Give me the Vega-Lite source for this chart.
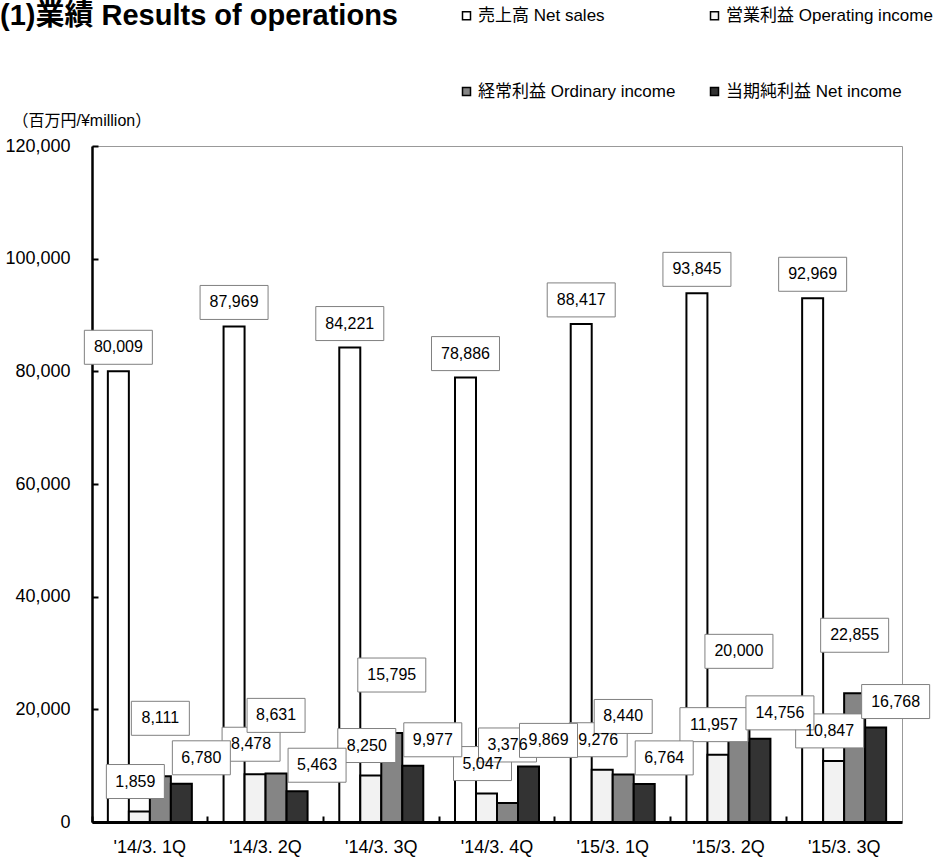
{
  "$schema": "https://vega.github.io/schema/vega-lite/v6.json",
  "autosize": {"type": "none"},
  "padding": {"left": 92, "top": 146, "right": 47, "bottom": 39},
  "width": 810,
  "height": 676,
  "background": "white",
  "title": {
    "text": "(1)業績 Results of operations",
    "anchor": "start",
    "frame": "group",
    "dx": -92,
    "dy": 24,
    "fontSize": 29,
    "fontWeight": "bold",
    "color": "black",
    "offset": 0
  },
  "data": {
    "values": [
      {"quarter": "'14/3. 1Q", "series": "売上高 Net sales", "value": 80009},
      {"quarter": "'14/3. 1Q", "series": "営業利益 Operating income", "value": 1859},
      {"quarter": "'14/3. 1Q", "series": "経常利益 Ordinary income", "value": 8111},
      {"quarter": "'14/3. 1Q", "series": "当期純利益 Net income", "value": 6780},
      {"quarter": "'14/3. 2Q", "series": "売上高 Net sales", "value": 87969},
      {"quarter": "'14/3. 2Q", "series": "営業利益 Operating income", "value": 8478},
      {"quarter": "'14/3. 2Q", "series": "経常利益 Ordinary income", "value": 8631},
      {"quarter": "'14/3. 2Q", "series": "当期純利益 Net income", "value": 5463},
      {"quarter": "'14/3. 3Q", "series": "売上高 Net sales", "value": 84221},
      {"quarter": "'14/3. 3Q", "series": "営業利益 Operating income", "value": 8250},
      {"quarter": "'14/3. 3Q", "series": "経常利益 Ordinary income", "value": 15795},
      {"quarter": "'14/3. 3Q", "series": "当期純利益 Net income", "value": 9977},
      {"quarter": "'14/3. 4Q", "series": "売上高 Net sales", "value": 78886},
      {"quarter": "'14/3. 4Q", "series": "営業利益 Operating income", "value": 5047},
      {"quarter": "'14/3. 4Q", "series": "経常利益 Ordinary income", "value": 3376},
      {"quarter": "'14/3. 4Q", "series": "当期純利益 Net income", "value": 9869},
      {"quarter": "'15/3. 1Q", "series": "売上高 Net sales", "value": 88417},
      {"quarter": "'15/3. 1Q", "series": "営業利益 Operating income", "value": 9276},
      {"quarter": "'15/3. 1Q", "series": "経常利益 Ordinary income", "value": 8440},
      {"quarter": "'15/3. 1Q", "series": "当期純利益 Net income", "value": 6764},
      {"quarter": "'15/3. 2Q", "series": "売上高 Net sales", "value": 93845},
      {"quarter": "'15/3. 2Q", "series": "営業利益 Operating income", "value": 11957},
      {"quarter": "'15/3. 2Q", "series": "経常利益 Ordinary income", "value": 20000},
      {"quarter": "'15/3. 2Q", "series": "当期純利益 Net income", "value": 14756},
      {"quarter": "'15/3. 3Q", "series": "売上高 Net sales", "value": 92969},
      {"quarter": "'15/3. 3Q", "series": "営業利益 Operating income", "value": 10847},
      {"quarter": "'15/3. 3Q", "series": "経常利益 Ordinary income", "value": 22855},
      {"quarter": "'15/3. 3Q", "series": "当期純利益 Net income", "value": 16768}
    ]
  },
  "encoding": {
    "x": {
      "field": "quarter",
      "type": "nominal",
      "scale": {"paddingInner": 0, "paddingOuter": 0},
      "axis": {
        "title": null,
        "labelAngle": 0,
        "bandPosition": 0,
        "tickSize": -6,
        "tickWidth": 2,
        "tickColor": "black",
        "domainWidth": 3,
        "domainColor": "black",
        "labelFontSize": 18,
        "labelColor": "black",
        "labelPadding": 22
      }
    },
    "xOffset": {
      "field": "series",
      "type": "nominal",
      "sort": ["売上高 Net sales", "営業利益 Operating income", "経常利益 Ordinary income", "当期純利益 Net income"],
      "scale": {"paddingInner": 0, "paddingOuter": 0.755}
    },
    "y": {
      "field": "value",
      "type": "quantitative",
      "scale": {"domain": [0, 120000], "nice": false},
      "axis": {
        "values": [0, 20000, 40000, 60000, 80000, 100000, 120000],
        "format": ",.0f",
        "grid": false,
        "tickSize": -6,
        "tickWidth": 2,
        "tickColor": "black",
        "domainWidth": 2.5,
        "domainColor": "black",
        "labelFontSize": 18,
        "labelColor": "black",
        "labelPadding": 28,
        "title": "（百万円/¥million）",
        "titleAngle": 0,
        "titleAlign": "left",
        "titleBaseline": "middle",
        "titleX": -80,
        "titleY": -26,
        "titleFontSize": 16,
        "titleFontWeight": "normal",
        "titleColor": "black"
      }
    }
  },
  "layer": [
    {
      "mark": {"type": "bar", "stroke": "black", "strokeWidth": 2},
      "encoding": {
        "fill": {
          "field": "series",
          "type": "nominal",
          "scale": {
            "domain": ["売上高 Net sales", "営業利益 Operating income", "経常利益 Ordinary income", "当期純利益 Net income"],
            "range": ["#ffffff", "#f2f2f2", "#858585", "#333333"]
          },
          "legend": {
            "orient": "none",
            "legendX": 366,
            "legendY": -139,
            "columns": 2,
            "direction": "horizontal",
            "title": null,
            "symbolType": "square",
            "symbolSize": 64,
            "symbolStrokeColor": "black",
            "symbolStrokeWidth": 1.5,
            "labelFontSize": 17,
            "labelColor": "black",
            "labelLimit": 0,
            "columnPadding": 30,
            "rowPadding": 58,
            "labelOffset": 3
          }
        }
      }
    },
    {
      "transform": [{"filter": {"field": "series", "equal": "売上高 Net sales"}}],
      "mark": {"type": "point", "filled": true, "fill": "white", "stroke": "#808080", "strokeWidth": 1, "opacity": 1, "size": 4, "shape": "M-34,-41L34,-41L34,-7L-34,-7Z"},
      "encoding": {}
    },
    {
      "transform": [{"filter": {"field": "series", "equal": "営業利益 Operating income"}}],
      "mark": {"type": "point", "filled": true, "fill": "white", "stroke": "#808080", "strokeWidth": 1, "opacity": 1, "size": 4},
      "encoding": {
        "shape": {"condition": {"test": "datum.value >= 10000", "value": "M-38,-47L30,-47L30,-13L-38,-13Z"}, "value": "M-33,-47L25,-47L25,-13L-33,-13Z"}
      }
    },
    {
      "transform": [{"filter": {"field": "series", "equal": "経常利益 Ordinary income"}}],
      "mark": {"type": "point", "filled": true, "fill": "white", "stroke": "#808080", "strokeWidth": 1, "opacity": 1, "size": 4},
      "encoding": {
        "shape": {"condition": {"test": "datum.value >= 10000", "value": "M-34,-75L34,-75L34,-41L-34,-41Z"}, "value": "M-29,-75L29,-75L29,-41L-29,-41Z"}
      }
    },
    {
      "transform": [{"filter": {"field": "series", "equal": "当期純利益 Net income"}}],
      "mark": {"type": "point", "filled": true, "fill": "white", "stroke": "#808080", "strokeWidth": 1, "opacity": 1, "size": 4},
      "encoding": {
        "shape": {"condition": {"test": "datum.value >= 10000", "value": "M-14,-43L54,-43L54,-9L-14,-9Z"}, "value": "M-9,-43L49,-43L49,-9L-9,-9Z"}
      }
    },
    {
      "transform": [{"filter": {"field": "series", "equal": "売上高 Net sales"}}],
      "mark": {"type": "text", "fontSize": 16, "color": "black", "align": "center", "baseline": "middle", "dx": 0, "dy": -24},
      "encoding": {"text": {"field": "value", "type": "quantitative", "format": ","}}
    },
    {
      "transform": [{"filter": {"field": "series", "equal": "営業利益 Operating income"}}],
      "mark": {"type": "text", "fontSize": 16, "color": "black", "align": "center", "baseline": "middle", "dx": -4, "dy": -30},
      "encoding": {"text": {"field": "value", "type": "quantitative", "format": ","}}
    },
    {
      "transform": [{"filter": {"field": "series", "equal": "経常利益 Ordinary income"}}],
      "mark": {"type": "text", "fontSize": 16, "color": "black", "align": "center", "baseline": "middle", "dx": 0, "dy": -58},
      "encoding": {"text": {"field": "value", "type": "quantitative", "format": ","}}
    },
    {
      "transform": [{"filter": {"field": "series", "equal": "当期純利益 Net income"}}],
      "mark": {"type": "text", "fontSize": 16, "color": "black", "align": "center", "baseline": "middle", "dx": 20, "dy": -26},
      "encoding": {"text": {"field": "value", "type": "quantitative", "format": ","}}
    }
  ],
  "config": {
    "font": "Liberation Sans, Noto Sans CJK JP",
    "view": {"stroke": "#999999", "strokeWidth": 1}
  }
}
